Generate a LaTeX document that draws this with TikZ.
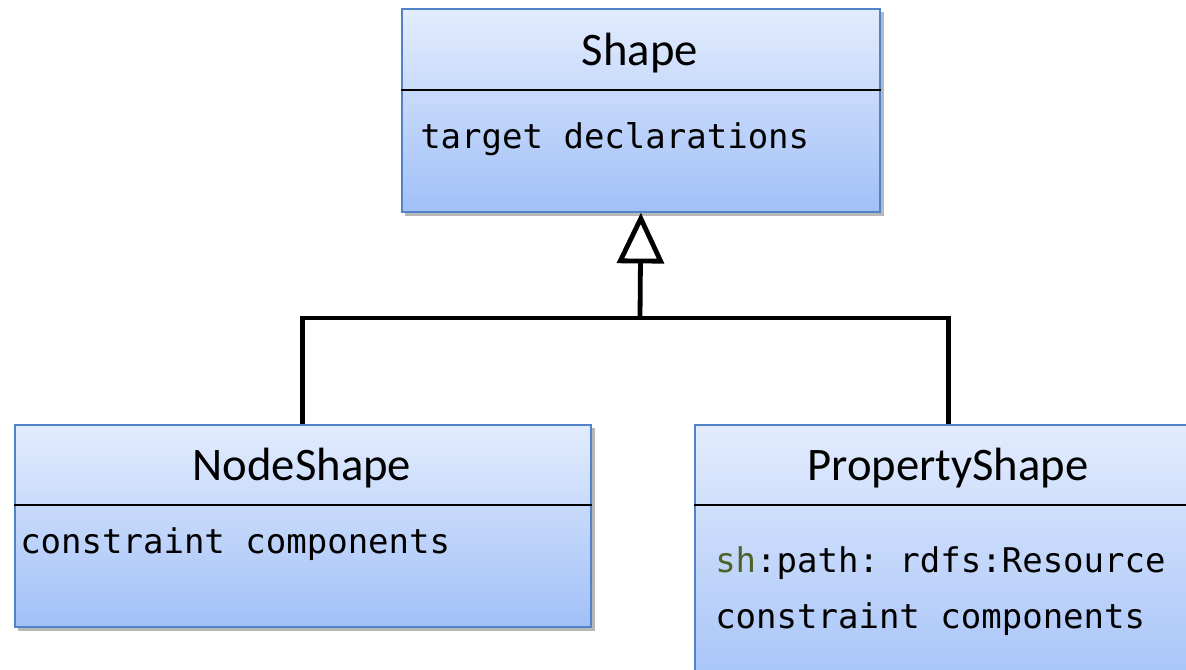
\documentclass[tikz,border=0pt]{standalone}
\usepackage{fontspec}
\setmainfont{Carlito}
\newfontfamily\codefont{DejaVu Sans Mono}
\usetikzlibrary{arrows.meta}

\definecolor{boxtop}{HTML}{E2ECFD}
\definecolor{boxbot}{HTML}{A2C0F8}
\definecolor{boxedge}{HTML}{5282C8}
\definecolor{shgreen}{HTML}{4F6228}

\tikzset{
  classbox/.style={rectangle, anchor=north west, inner sep=0pt,
    draw=boxedge, line width=1.3pt, top color=boxtop, bottom color=boxbot},
  boxshadow/.style={fill=black!28, draw=none},
  divider/.style={draw=black, line width=1.3pt},
  title/.style={anchor=base, inner sep=0pt, font=\fontsize{35pt}{40pt}\selectfont},
  attr/.style={anchor=base west, inner sep=0pt, font=\codefont\frenchspacing\fontsize{25.5pt}{30pt}\selectfont},
  conn/.style={draw=black, line width=3.6pt, line join=miter},
  inherit/.style={conn, -{Triangle[open, length=38pt, width=35pt, line width=3.6pt]}}
}

\begin{document}
\begin{tikzpicture}[x=0.75pt, y=-0.75pt]
  \useasboundingbox (0,0) rectangle (1186,669);
  \clip (0,0) rectangle (1186,669);

  % shadows
  \fill[boxshadow] (405,12) rectangle (884,216);
  \fill[boxshadow] (18,428) rectangle (595,631);
  \fill[boxshadow] (698,428) rectangle (1210,710);

  % class boxes
  \node[classbox, minimum width=358.5pt, minimum height=152.25pt] (shape) at (401,8) {};
  \node[classbox, minimum width=432pt, minimum height=151.5pt] (nodeshape) at (14,424) {};
  \node[classbox, minimum width=381pt, minimum height=210pt] (propshape) at (694,424) {};

  % compartment dividers
  \draw[divider] (shape.west |- 0,90) -- (shape.east |- 0,90);
  \draw[divider] (nodeshape.west |- 0,505) -- (nodeshape.east |- 0,505);
  \draw[divider] (propshape.west |- 0,505) -- (propshape.east |- 0,505);

  % names
  \node[title] (shapeT) at (640,65) {Shape};
  \node[title] (nodeT) at (302,480) {NodeShape};
  \node[title] (propT) at (948,480) {PropertyShape};

  % attributes
  \node[attr] (shapeA) at (420,148) {target declarations};
  \node[attr] (nodeA) at (20,553) {constraint components};
  \node[attr] (propA1) at (715,572) {\textcolor{shgreen}{sh}:path: rdfs:Resource};
  \node[attr] (propA2) at (715,628) {constraint components};

  % generalization
  \coordinate (join) at (640,318);
  \draw[conn] (nodeshape.north) |- (join) -| (propshape.north);
  \draw[inherit] (join) -- (shape.south);
\end{tikzpicture}
\end{document}
